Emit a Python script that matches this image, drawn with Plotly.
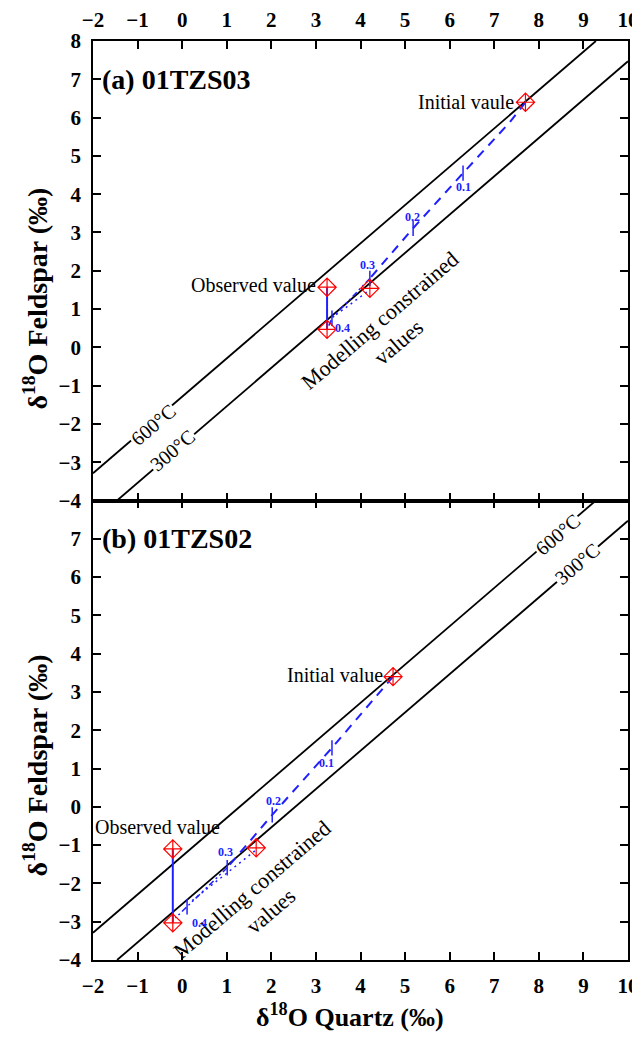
import plotly.graph_objects as go

FONT = "Liberation Serif"
BLUE = "#2020ff"

# isotherm lines (read end points)
iso600_x = [-2.0, 9.28]
iso600_y = [-3.29, 8.0]
iso300_x = [-1.46, 10.0]
iso300_y = [-4.0, 7.47]

# panel (a) 01TZS03
a_points_x = [7.70, 3.25, 3.25, 4.21]
a_points_y = [6.40, 1.57, 0.47, 1.54]
a_vert_x = [3.25, 3.25]
a_vert_y = [1.57, 0.47]
a_dash_x = [7.70, 7.35, 6.30, 5.18, 4.21]
a_dash_y = [6.40, 5.88, 4.55, 3.11, 1.80]
a_dd_x = [4.21, 3.36, 3.27]
a_dd_y = [1.80, 0.76, 0.52]
a_dot_x = [4.14, 3.38]
a_dot_y = [1.44, 0.79]
a_frac_x = [6.30, 5.18, 4.21, 3.36]
a_frac_y = [4.55, 3.11, 1.80, 0.76]
frac_labels = ["0.1", "0.2", "0.3", "0.4"]

# panel (b) 01TZS02
b_points_x = [4.73, -0.21, -0.21, 1.66]
b_points_y = [3.40, -1.10, -3.03, -1.07]
b_vert_x = [-0.21, -0.21]
b_vert_y = [-1.10, -3.03]
b_dash_x = [4.73, 3.36, 2.02, 1.01]
b_dash_y = [3.40, 1.54, -0.21, -1.59]
b_dd_x = [1.01, 0.11, -0.15]
b_dd_y = [-1.59, -2.61, -2.90]
b_dot_x = [1.63, 0.18]
b_dot_y = [-1.15, -2.49]
b_frac_x = [3.36, 2.02, 1.01, 0.11]
b_frac_y = [1.54, -0.21, -1.59, -2.61]

x_ticks = list(range(-2, 11))
a_y_ticks = list(range(-4, 9))
b_y_ticks = list(range(-4, 8))

fig = go.Figure()


def add_panel(xa, ya, px, py, vx, vy, dx, dy, ddx, ddy, dotx, doty, fx, fy):
    for lx, ly in ((iso600_x, iso600_y), (iso300_x, iso300_y)):
        fig.add_trace(go.Scatter(x=lx, y=ly, mode="lines", xaxis=xa, yaxis=ya,
                                 line=dict(color="black", width=1.8), showlegend=False))
    fig.add_trace(go.Scatter(x=dx, y=dy, mode="lines", xaxis=xa, yaxis=ya,
                             line=dict(color=BLUE, width=2, dash="9px,7px"), showlegend=False))
    fig.add_trace(go.Scatter(x=ddx, y=ddy, mode="lines", xaxis=xa, yaxis=ya,
                             line=dict(color=BLUE, width=1.5, dash="6px,3px,2px,3px,2px,3px"),
                             showlegend=False))
    fig.add_trace(go.Scatter(x=dotx, y=doty, mode="lines", xaxis=xa, yaxis=ya,
                             line=dict(color=BLUE, width=1.5, dash="2px,4px"), showlegend=False))
    fig.add_trace(go.Scatter(x=vx, y=vy, mode="lines", xaxis=xa, yaxis=ya,
                             line=dict(color=BLUE, width=2), showlegend=False))
    fig.add_trace(go.Scatter(x=fx, y=fy, mode="markers", xaxis=xa, yaxis=ya,
                             marker=dict(symbol="line-ns-open", size=11, color=BLUE,
                                         line=dict(color=BLUE, width=1.5)),
                             showlegend=False))
    fig.add_trace(go.Scatter(x=px, y=py, mode="markers", xaxis=xa, yaxis=ya,
                             marker=dict(symbol="diamond-cross-open", size=14, color="red",
                                         line=dict(color="red", width=1.2)),
                             showlegend=False))


add_panel("x", "y", a_points_x, a_points_y, a_vert_x, a_vert_y, a_dash_x, a_dash_y,
          a_dd_x, a_dd_y, a_dot_x, a_dot_y, a_frac_x, a_frac_y)
add_panel("x2", "y2", b_points_x, b_points_y, b_vert_x, b_vert_y, b_dash_x, b_dash_y,
          b_dd_x, b_dd_y, b_dot_x, b_dot_y, b_frac_x, b_frac_y)

ann = []
ANG = -40.6


def txt(text, x, y, xr, yr, size=20, bold=False, color="black", **kw):
    d = dict(text=text, x=x, y=y, xref=xr, yref=yr, showarrow=False,
             xanchor="center", yanchor="middle",
             font=dict(family=FONT, size=size, color=color,
                       weight="bold" if bold else "normal"))
    d.update(kw)
    ann.append(d)


# panel labels
txt("(a) 01TZS03", -1.84, 7.0, "x", "y", size=28, bold=True, xanchor="left")
txt("(b) 01TZS02", -1.84, 7.0, "x2", "y2", size=28, bold=True, xanchor="left")

# isotherm labels
txt("600°C", -0.65, -2.04, "x", "y", size=20, textangle=ANG, bgcolor="white")
txt("300°C", -0.21, -2.69, "x", "y", size=20, textangle=ANG, bgcolor="white")
txt("600°C", 8.41, 7.11, "x2", "y2", size=20, textangle=ANG, bgcolor="white")
txt("300°C", 8.86, 6.33, "x2", "y2", size=20, textangle=ANG, bgcolor="white")

# point labels
txt("Initial vaule", a_points_x[0], a_points_y[0], "x", "y", xanchor="right", xshift=-9)
txt("Observed value", a_points_x[1], a_points_y[1], "x", "y", xanchor="right", xshift=-9, yshift=2)
txt("Modelling constrained<br>values", 4.66, 0.42, "x", "y", size=22, textangle=ANG)
txt("Initial value", b_points_x[0], b_points_y[0], "x2", "y2", xanchor="right", xshift=-8, yshift=2)
txt("Observed value", -0.56, -0.52, "x2", "y2")
txt("Modelling constrained<br>values", 1.79, -2.43, "x2", "y2", size=22, textangle=ANG)

# fraction labels
a_off = [(0, -14), (-1, 11), (-2, 13), (11, -10)]
b_off = [(-5, -15), (1, 14), (-2, 16), (12, -16)]
for (fx, fy, lab, off) in zip(a_frac_x, a_frac_y, frac_labels, a_off):
    txt(lab, fx, fy, "x", "y", size=12, bold=True, color=BLUE, xshift=off[0], yshift=off[1])
for (fx, fy, lab, off) in zip(b_frac_x, b_frac_y, frac_labels, b_off):
    txt(lab, fx, fy, "x2", "y2", size=12, bold=True, color=BLUE, xshift=off[0], yshift=off[1])

# axis titles
ytitle = "δ<sup>18</sup>O Feldspar (‰)"
txt(ytitle, -0.108, 0.72, "paper", "paper", size=28, bold=True, textangle=-90)
txt(ytitle, -0.108, 0.212, "paper", "paper", size=28, bold=True, textangle=-90)
txt("δ<sup>18</sup>O Quartz (‰)", 0.48, -0.060, "paper", "paper", size=26, bold=True)

axis_common = dict(showline=True, linecolor="black", linewidth=1.5, mirror="ticks",
                   ticks="inside", ticklen=8, tickwidth=1.5, tickcolor="black",
                   showgrid=False, zeroline=False, automargin=False,
                   tickfont=dict(family=FONT, size=21, color="black", weight="bold"))

# the page body adds an 8px offset, so the figure is sized/margined to compensate
fig.update_layout(
    width=632, height=1026,
    margin=dict(l=85, r=12, t=33, b=74),
    paper_bgcolor="white", plot_bgcolor="white",
    showlegend=False,
    annotations=ann,
    xaxis=dict(range=[-2, 10], tickvals=x_ticks, side="top", anchor="y",
               domain=[0, 1], ticklabelstandoff=4, **axis_common),
    yaxis=dict(range=[-4, 8], tickvals=a_y_ticks, domain=[0.5, 1], anchor="x",
               ticklabelstandoff=6, **axis_common),
    xaxis2=dict(range=[-2, 10], tickvals=x_ticks, side="bottom", anchor="y2",
                domain=[0, 1], ticklabelstandoff=6, **axis_common),
    yaxis2=dict(range=[-4, 8], tickvals=b_y_ticks, domain=[0, 0.5], anchor="x2",
                ticklabelstandoff=6, **axis_common),
)

fig.write_html("out.html")
